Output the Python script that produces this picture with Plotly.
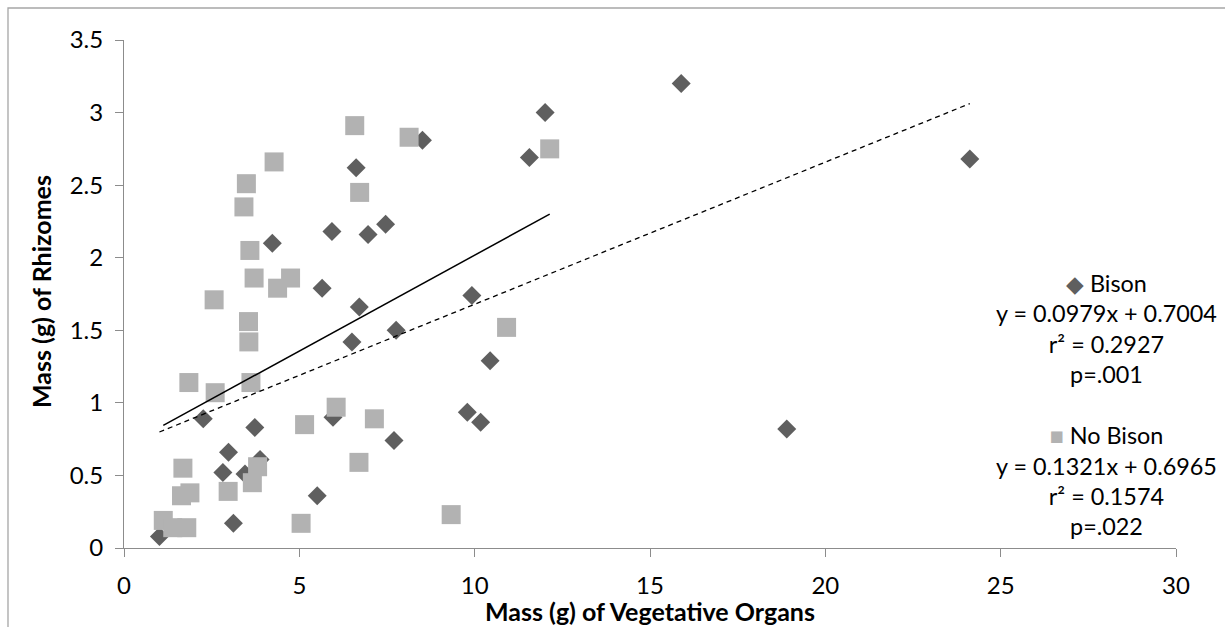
import plotly.graph_objects as go

# ---- data ----
bison_x = [1.01, 2.26, 2.82, 2.98, 3.12, 3.45, 3.73, 3.88, 4.23, 5.51, 5.65, 5.93, 5.96, 6.50, 6.62,
           6.71, 6.96, 7.46, 7.70, 7.76, 8.51, 9.79, 9.92, 10.17, 10.44, 11.56, 12.01, 15.89, 18.90, 24.12]
bison_y = [0.08, 0.89, 0.52, 0.66, 0.17, 0.51, 0.83, 0.61, 2.10, 0.36, 1.79, 2.18, 0.90, 1.42, 2.62,
           1.66, 2.16, 2.23, 0.74, 1.50, 2.81, 0.935, 1.74, 0.866, 1.29, 2.69, 3.00, 3.20, 0.82, 2.68]

nobison_x = [1.12, 1.39, 1.64, 1.68, 1.79, 1.85, 1.88, 2.57, 2.60, 2.97, 3.42, 3.49, 3.55, 3.56, 3.59,
             3.62, 3.66, 3.71, 3.81, 4.28, 4.38, 4.75, 5.05, 5.15, 6.05, 6.58, 6.70, 6.72, 7.14, 8.13,
             9.33, 10.91, 12.14]
nobison_y = [0.19, 0.14, 0.36, 0.55, 0.14, 1.14, 0.38, 1.71, 1.07, 0.39, 2.35, 2.51, 1.56, 1.42, 2.05,
             1.14, 0.45, 1.86, 0.56, 2.66, 1.79, 1.86, 0.17, 0.85, 0.97, 2.91, 0.59, 2.45, 0.89, 2.83,
             0.23, 1.52, 2.75]

bison_slope, bison_intercept = 0.0979, 0.7004
nobison_slope, nobison_intercept = 0.1321, 0.6965

x_ticks = [0, 5, 10, 15, 20, 25, 30]
y_ticks = [0, 0.5, 1, 1.5, 2, 2.5, 3, 3.5]

legend_lines = [
    ("Bison", "y = 0.0979x + 0.7004", "r² = 0.2927", "p=.001"),
    ("No Bison", "y = 0.1321x + 0.6965", "r² = 0.1574", "p=.022"),
]

# ---- styling ----
C_BISON = "#5f5f5f"
C_NOBISON = "#b2b2b2"
AXIS_C = "#8c8c8c"
FONT = "Lato, 'Open Sans', sans-serif"

fig = go.Figure()

fig.add_trace(go.Scatter(x=bison_x, y=bison_y, mode="markers", name="Bison",
                         marker=dict(symbol="diamond", size=14.6, color=C_BISON, line=dict(width=0))))
fig.add_trace(go.Scatter(x=nobison_x, y=nobison_y, mode="markers", name="No Bison",
                         marker=dict(symbol="square", size=19, color=C_NOBISON, line=dict(width=0))))

bx = [min(bison_x), max(bison_x)]
fig.add_trace(go.Scatter(x=bx, y=[bison_slope * v + bison_intercept for v in bx], mode="lines",
                         line=dict(color="black", width=1.3, dash="5px,4px"), showlegend=False))
nx = [min(nobison_x), max(nobison_x)]
fig.add_trace(go.Scatter(x=nx, y=[nobison_slope * v + nobison_intercept for v in nx], mode="lines",
                         line=dict(color="black", width=1.5), showlegend=False))

W, H = 1225, 627
L, R, T, B = 124, 49, 40, 79
pw, ph = W - L - R, H - T - B

def px_x(p):
    return (p - L) / pw

def px_y(p):
    return (H - B - p) / ph

fig.update_layout(
    width=W, height=H,
    margin=dict(l=L, r=R, t=T, b=B),
    paper_bgcolor="white", plot_bgcolor="white",
    showlegend=False,
    font=dict(family=FONT, size=23, color="black"),
)
fig.update_xaxes(range=[0, 30], tickvals=x_ticks, showgrid=False, zeroline=False,
                 showline=True, linecolor=AXIS_C, linewidth=1,
                 ticks="outside", ticklen=8, tickcolor=AXIS_C, tickwidth=1,
                 tickfont=dict(family=FONT, size=24, color="black"), ticklabelstandoff=8)
fig.update_yaxes(range=[0, 3.5], tickvals=y_ticks, showgrid=False, zeroline=False,
                 showline=True, linecolor=AXIS_C, linewidth=1,
                 ticks="outside", ticklen=8, tickcolor=AXIS_C, tickwidth=1,
                 tickfont=dict(family=FONT, size=24, color="black"), ticklabelstandoff=7)

# axis titles
fig.add_annotation(text="<b>Mass (g) of Vegetative Organs</b>", xref="paper", yref="paper",
                   x=0.5, y=px_y(611), xanchor="center", yanchor="middle", showarrow=False,
                   font=dict(family=FONT, size=25, color="black"))
fig.add_annotation(text="<b>Mass (g) of Rhizomes</b>", xref="paper", yref="paper",
                   x=px_x(41), y=px_y(292), xanchor="center", yanchor="middle", showarrow=False,
                   textangle=-90, font=dict(family=FONT, size=25, color="black"))

# legend-like text block with trendline equations
b, n = legend_lines
block = (f"<span style='color:{C_BISON}'>◆</span> {b[0]}<br>{b[1]}<br>{b[2]}<br>{b[3]}<br> <br>"
         f"<span style='color:{C_NOBISON}'>■</span> {n[0]}<br>{n[1]}<br>{n[2]}<br>{n[3]}")
fig.add_annotation(text=block, xref="paper", yref="paper", x=px_x(1106), y=px_y(404),
                   xanchor="center", yanchor="middle", align="center", showarrow=False,
                   font=dict(family=FONT, size=23.4, color="black"))

# outer chart border (left and top visible)
fig.add_shape(type="rect", xref="paper", yref="paper", x0=px_x(8), x1=px_x(W + 20),
              y0=px_y(H + 20), y1=px_y(8), line=dict(color="#a6a6a6", width=1.3),
              fillcolor="rgba(0,0,0,0)", layer="below")

fig.write_html("out.html", config={"displayModeBar": False},
               post_script="document.body.style.margin='0';")
